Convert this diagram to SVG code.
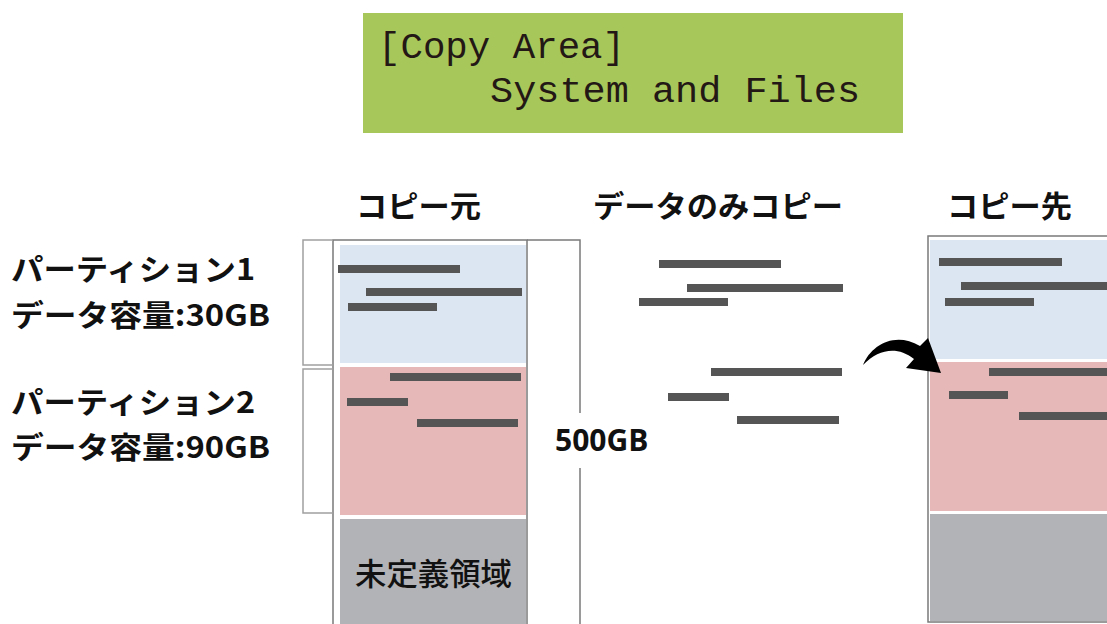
<svg xmlns="http://www.w3.org/2000/svg" width="1107" height="624" viewBox="0 0 1107 624">
<style>
.jp{font-family:"Noto Sans CJK JP","Noto Sans",sans-serif;fill:#111;}
.hd{font-size:30px;font-weight:bold;}
.lb{font-size:30px;font-weight:bold;}
.mono{font-family:"Liberation Mono","DejaVu Sans Mono",monospace;font-size:36px;fill:#231815;}
.bar{fill:#555555;}
.blue{fill:#dce6f2;}
.pink{fill:#e6b9b8;}
.gray{fill:#b2b3b6;}
.frame{fill:none;stroke:#7a7a7a;stroke-width:1.5;}
.brk{fill:none;stroke:#a0a0a0;stroke-width:1.5;}
</style>
<rect width="1107" height="624" fill="#ffffff"/>
<g id="title">
<rect x="363" y="13" width="540" height="120" fill="#a8c75a"/>
<text class="mono" x="378" y="58" textLength="247" lengthAdjust="spacingAndGlyphs">[Copy Area]</text>
<text class="mono" x="490" y="102" textLength="370" lengthAdjust="spacingAndGlyphs">System and Files</text>
</g>
<g id="headers">
<text class="jp hd" x="356" y="217" textLength="125" lengthAdjust="spacingAndGlyphs">コピー元</text>
<text class="jp hd" x="593" y="217" textLength="250" lengthAdjust="spacingAndGlyphs">データのみコピー</text>
<text class="jp hd" x="947" y="217" textLength="125" lengthAdjust="spacingAndGlyphs">コピー先</text>
</g>
<g id="labels">
<text class="jp lb" x="11" y="280" textLength="244" lengthAdjust="spacingAndGlyphs">パーティション1</text>
<text class="jp lb" x="11" y="326" textLength="259" lengthAdjust="spacingAndGlyphs">データ容量:30GB</text>
<text class="jp lb" x="11" y="413" textLength="244" lengthAdjust="spacingAndGlyphs">パーティション2</text>
<text class="jp lb" x="11" y="458" textLength="259" lengthAdjust="spacingAndGlyphs">データ容量:90GB</text>
</g>
<g id="source">
<rect class="frame" x="333" y="240" width="194" height="400"/>
<rect class="blue" x="340" y="245" width="186" height="118"/>
<rect class="pink" x="340" y="367" width="186" height="148"/>
<rect class="gray" x="340" y="519" width="186" height="110"/>
<rect class="bar" x="338" y="265" width="122" height="8"/>
<rect class="bar" x="366" y="288" width="156" height="8"/>
<rect class="bar" x="348" y="303" width="89" height="8"/>
<rect class="bar" x="390" y="373" width="131" height="8"/>
<rect class="bar" x="347" y="398" width="61" height="8"/>
<rect class="bar" x="417" y="419" width="101" height="8"/>
<text class="jp" x="355" y="585" font-size="31" font-weight="500" textLength="157" lengthAdjust="spacingAndGlyphs">未定義領域</text>
</g>
<g id="middle">
<rect class="bar" x="659" y="260" width="122" height="8"/>
<rect class="bar" x="687" y="284" width="156" height="8"/>
<rect class="bar" x="639" y="298" width="89" height="8"/>
<rect class="bar" x="711" y="368" width="131" height="8"/>
<rect class="bar" x="668" y="393" width="61" height="8"/>
<rect class="bar" x="737" y="416" width="102" height="8"/>
</g>
<g id="destination">
<rect class="frame" x="928" y="236" width="200" height="386"/>
<rect class="blue" x="930" y="240" width="180" height="119"/>
<rect class="pink" x="930" y="362" width="180" height="149"/>
<rect class="gray" x="930" y="514" width="180" height="107"/>
<rect class="bar" x="939" y="258" width="123" height="8"/>
<rect class="bar" x="961" y="282" width="150" height="8"/>
<rect class="bar" x="945" y="298" width="89" height="8"/>
<rect class="bar" x="989" y="368" width="120" height="8"/>
<rect class="bar" x="949" y="391" width="59" height="8"/>
<rect class="bar" x="1019" y="412" width="90" height="8"/>
</g>
<g id="connectors">
<path class="brk" d="M333 240 H303 V365 H333"/>
<path class="brk" d="M333 369 H303 V513 H333"/>
<path class="frame" d="M527 240 H580 V413 M580 468 V624"/>
<text x="555" y="451" font-family="'Open Sans','Noto Sans','Liberation Sans',sans-serif" font-size="30" font-weight="bold" fill="#111">500GB</text>
<path id="arrow" fill="#000" d="M863 365 C871 345 895 331 920 346 L928 338 L941 373 L906 368 L914 359 C897 346 879 349 863 365 Z"/>
</g>
</svg>
